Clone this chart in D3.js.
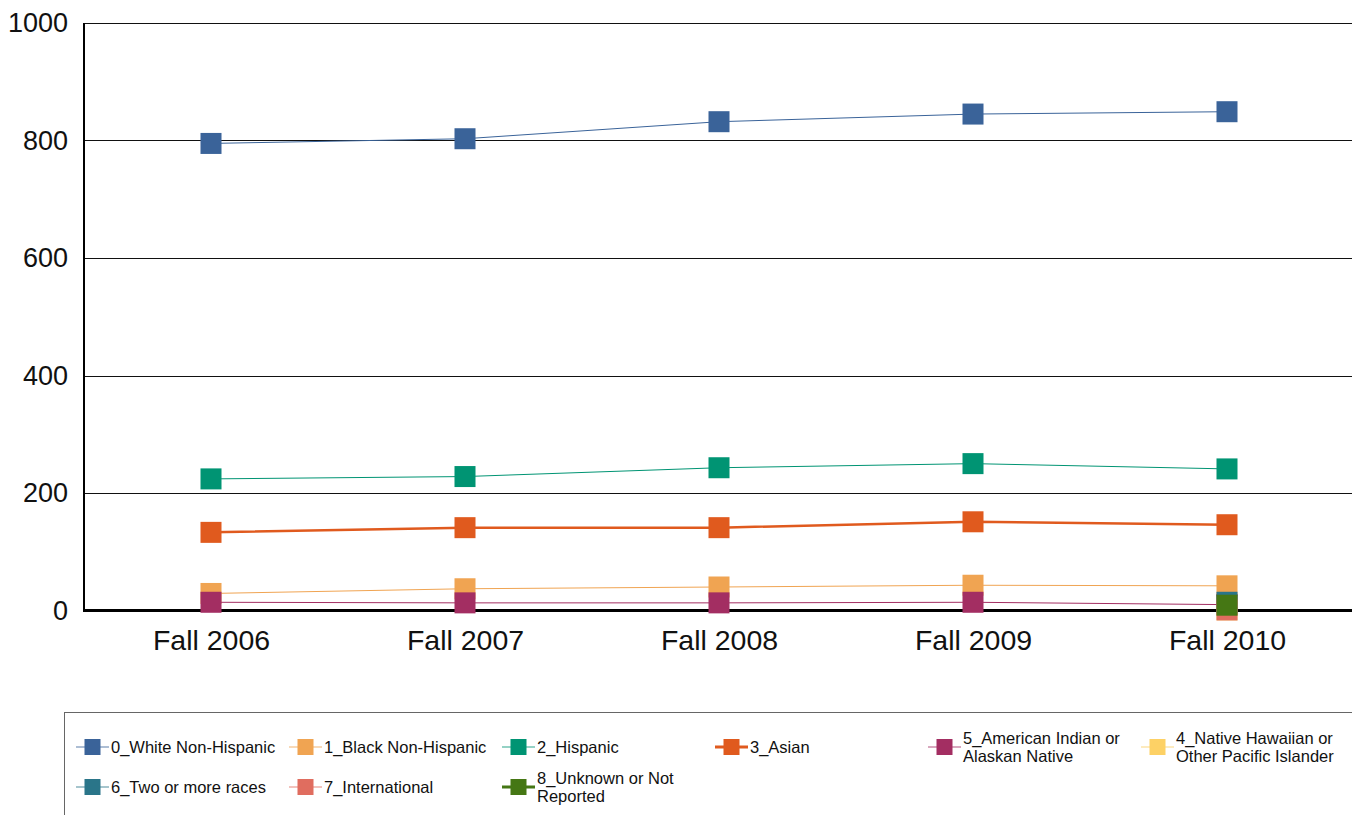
<!DOCTYPE html>
<html><head><meta charset="utf-8">
<script src="https://cdn.jsdelivr.net/npm/d3@7"></script>
<style>
html,body{margin:0;padding:0;background:#fff;}
svg{display:block;font-family:"Liberation Sans",Arial,sans-serif;}
</style></head>
<body>
<svg id="chart" width="1352" height="815"></svg>
<script>
const categories = ["Fall 2006","Fall 2007","Fall 2008","Fall 2009","Fall 2010"];
const seriesNames = ["0_White Non-Hispanic","1_Black Non-Hispanic","2_Hispanic","3_Asian",
  "5_American Indian or|Alaskan Native","4_Native Hawaiian or|Other Pacific Islander",
  "6_Two or more races","7_International","8_Unknown or Not|Reported"];
const white   = [795, 803, 832, 845, 849];
const black   = [29, 37, 40, 43, 42];
const hispanic= [224, 228, 243, 250, 241];
const asian   = [133, 141, 141, 151, 146];
const amIndian= [14, 13, 13, 14, 10];
const hawaiian= [null, null, null, null, 1];
const twoMore = [null, null, null, null, 14];
const intl    = [null, null, null, null, 1];
const unknown = [null, null, null, null, 9];
const seriesValues = [white, black, hispanic, asian, amIndian, hawaiian, twoMore, intl, unknown];
const colors = ["#3a6399","#f0a452","#009473","#e05a1e","#a32e62","#fdd165","#2a7589","#e06d5f","#457714"];
const lineWidths = [1,1,1,2.5,1,1,1,1,2.5];
const yTicks = [0,200,400,600,800,1000];

const svg = d3.select("#chart");
const pLeft = 84, pRight = 1354, pTop = 23, pBottom = 610.5;
const x = d3.scalePoint().domain(categories).range([pLeft, pRight]).padding(0.5);
const y = d3.scaleLinear().domain([0,1000]).range([pBottom, pTop]);

// gridlines
svg.append("g").selectAll("line").data(yTicks.filter(d=>d>0)).join("line")
  .attr("x1", pLeft).attr("x2", 1352)
  .attr("y1", d=>Math.round(y(d))+0.5).attr("y2", d=>Math.round(y(d))+0.5)
  .attr("stroke", "#111").attr("stroke-width", 1);

// y axis
const yAxis = d3.axisLeft(y).tickValues(yTicks).tickSize(0).tickPadding(16).tickFormat(d3.format("d"));
const gy = svg.append("g").attr("transform", `translate(${pLeft},0)`).call(yAxis);
gy.select(".domain").remove();
gy.selectAll("text").attr("font-size", 27).attr("fill", "#111").attr("font-family", "Liberation Sans, Arial, sans-serif");
svg.append("line").attr("x1", pLeft).attr("x2", pLeft).attr("y1", pTop).attr("y2", pBottom+1.5)
  .attr("stroke", "#000").attr("stroke-width", 2);

// x axis
const xAxis = d3.axisBottom(x).tickSize(0).tickPadding(19);
const gx = svg.append("g").attr("transform", `translate(0,${pBottom})`).call(xAxis);
gx.select(".domain").remove();
gx.selectAll("text").attr("font-size", 28.5).attr("fill", "#111").attr("font-family", "Liberation Sans, Arial, sans-serif");
svg.append("line").attr("x1", pLeft-1).attr("x2", 1352).attr("y1", pBottom).attr("y2", pBottom)
  .attr("stroke", "#000").attr("stroke-width", 3);

// series
const ms = 21;
seriesValues.forEach((vals, i) => {
  const pts = categories.map((c, j) => ({c, v: vals[j]})).filter(d => d.v != null);
  const line = d3.line().x(d => x(d.c)).y(d => y(d.v));
  const g = svg.append("g");
  if (pts.length > 1) {
    g.append("path").datum(pts).attr("d", line).attr("fill", "none")
      .attr("stroke", colors[i]).attr("stroke-width", lineWidths[i]);
  }
  g.selectAll("rect").data(pts).join("rect")
    .attr("x", d => x(d.c) - ms/2).attr("y", d => y(d.v) - ms/2)
    .attr("width", ms).attr("height", ms).attr("fill", colors[i]);
});

// legend
svg.append("rect").attr("x", 64.5).attr("y", 712.5).attr("width", 1300).attr("height", 120)
  .attr("fill", "none").attr("stroke", "#666").attr("stroke-width", 1);
const legPos = [[0,0],[1,0],[2,0],[3,0],[4,0],[5,0],[0,1],[1,1],[2,1]];
const rowY = [747, 787];
const lg = svg.append("g").attr("font-size", 16.5).attr("fill", "#111");
seriesNames.forEach((name, i) => {
  const [c, r] = legPos[i];
  const lx = 76 + c * 213, ly = rowY[r];
  const g = lg.append("g");
  g.append("line").attr("x1", lx).attr("x2", lx+33).attr("y1", ly).attr("y2", ly)
    .attr("stroke", colors[i]).attr("stroke-width", lineWidths[i] > 1 ? 3 : 1.5).attr("opacity", lineWidths[i] > 1 ? 1 : 0.55);
  g.append("rect").attr("x", lx+8.5).attr("y", ly-8).attr("width", 16).attr("height", 16).attr("fill", colors[i]);
  const lines = name.split("|");
  const t = g.append("text").attr("transform", `translate(${lx+35},${ly})`);
  lines.forEach((ln, k) => {
    t.append("tspan").attr("x", 0)
      .attr("y", (k - (lines.length-1)/2) * 18)
      .attr("dy", "0.36em").text(ln);
  });
});
</script>
</body></html>
